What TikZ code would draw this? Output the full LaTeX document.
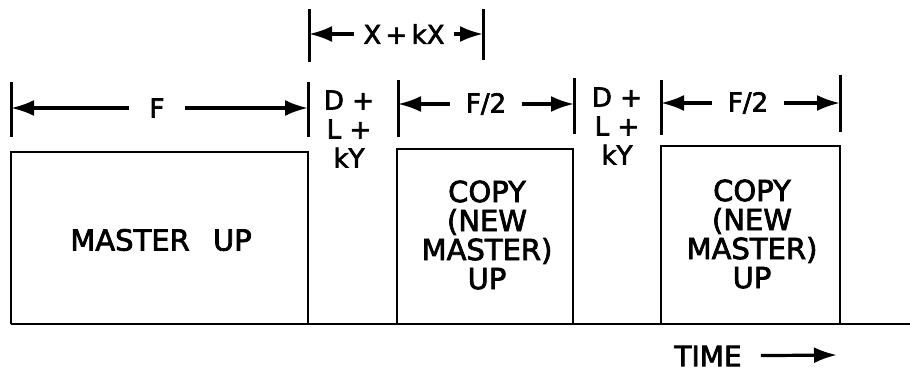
\documentclass[tikz,border=0pt]{standalone}
\usepackage{fontspec}
\setmainfont{DejaVu Sans}[FakeBold=2.5]
\usetikzlibrary{arrows.meta}

\tikzset{
  dim/.style={line width=3.2pt, -{Latex[length=23pt,width=16pt]}},
  tick/.style={line width=3pt},
  slot/.style={line width=2.8pt},
  lbl/.style={font=\fontsize{26}{29}\selectfont, inner ysep=0pt, inner xsep=16pt, align=center},
  boxtxt/.style={font=\fontsize{29}{29}\selectfont, inner sep=0pt, align=center},
}

\begin{document}
\begin{tikzpicture}[x=1pt,y=-1pt]
\useasboundingbox (0,0) rectangle (910,372);
% time axis and the up periods
\draw[slot] (11,324) -- (910,324);
\draw[slot] (11,324) |- (308,152) -- (308,324);
\draw[slot] (397,324) |- (573,149) -- (573,324);
\draw[slot] (661,324) |- (840,146) -- (840,324);
\node[boxtxt] (master) at (161,240) {MASTER\hspace{0.8em}UP};
\node[boxtxt] (copyA) at (487,235) {COPY\\(NEW\\MASTER)\\UP};
\node[boxtxt] (copyB) at (752,234) {COPY\\(NEW\\MASTER)\\UP};

% ticks
\draw[tick] (11,82) -- (11,137);
\draw[tick] (308,82) -- (308,137);
\draw[tick] (398,80) -- (398,137);
\draw[tick] (574,78) -- (574,134);
\draw[tick] (661,80) -- (661,135);
\draw[tick] (840,75) -- (840,132);
\draw[tick] (309,9) -- (309,62);
\draw[tick] (483,9) -- (483,60);

% dimensions
\coordinate (fL) at (11,108);
\coordinate (fR) at (308,108);
\node[lbl, inner xsep=20pt] (F) at (157,108) {F};
\draw[dim] (F) -- (fL);
\draw[dim] (F) -- (fR);

\coordinate (hAL) at (398,104);
\coordinate (hAR) at (574,104);
\node[lbl] (halfA) at (486,104) {F/2};
\draw[dim] (halfA) -- (hAL);
\draw[dim] (halfA) -- (hAR);

\coordinate (hBL) at (661,103);
\coordinate (hBR) at (840,103);
\node[lbl] (halfB) at (748,103) {F/2};
\draw[dim] (halfB) -- (hBL);
\draw[dim] (halfB) -- (hBR);

\coordinate (xL) at (309,34);
\coordinate (xR) at (483,34);
\node[lbl, inner xsep=9pt] (xkx) at (404,34) {X\,+\,kX};
\draw[dim] (xkx) -- (xL);
\draw[dim] (xkx) -- (xR);

\node[lbl, inner sep=0pt] (gapA) at (349,129) {D +\\L +\\kY};
\node[lbl, inner sep=0pt] (gapB) at (617,126) {D +\\L +\\kY};

% time
\node[lbl, font=\fontsize{28}{29}\selectfont, inner xsep=19pt] (time) at (708,356) {TIME};
\coordinate (tEnd) at (837,355);
\draw[dim] (time) -- (tEnd);
\end{tikzpicture}
\end{document}
